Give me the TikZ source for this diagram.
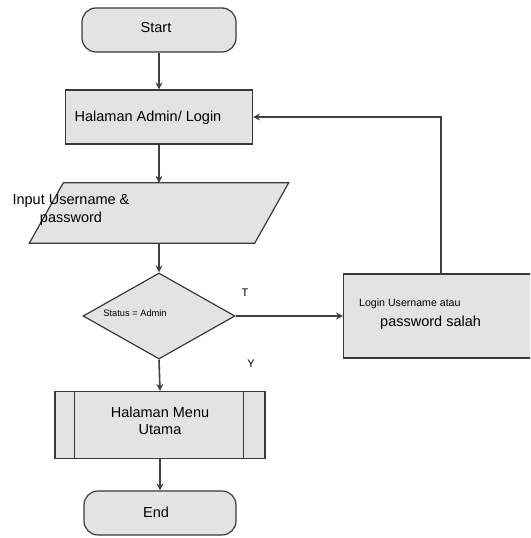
\documentclass[tikz,border=0pt]{standalone}
\usepackage{fontspec}
\setmainfont{Liberation Sans}
\usetikzlibrary{shapes.geometric,arrows.meta}

\tikzset{
  boxfill/.style={fill=gray!22, draw=gray!45!black, line width=1.2pt},
  terminal/.style={boxfill, rectangle, rounded corners=14pt, inner sep=0pt},
  procbox/.style={boxfill, rectangle, inner sep=0pt},
  decision/.style={boxfill, diamond, inner sep=0pt},
  ghost/.style={draw=none, rectangle, inner sep=0pt},
  flow/.style={draw=gray!50!black, line width=1.6pt,
               -{Stealth[length=7pt,width=7pt]}},
  bigtxt/.style={inner sep=0pt, font=\fontsize{14.5}{17.5}\selectfont, align=center},
  smalltxt/.style={inner sep=0pt, font=\fontsize{10.6}{12}\selectfont},
  tinytxt/.style={inner sep=0pt, font=\fontsize{9.3}{11}\selectfont},
  marktxt/.style={inner sep=0pt, font=\fontsize{11}{13}\selectfont}
}

\begin{document}
\begin{tikzpicture}[x=1pt,y=-1pt]
  \useasboundingbox (0,0) rectangle (530,538);
  \clip (0,0) rectangle (530,538);

  % main column
  \node[terminal, minimum width=154, minimum height=44] (start) at (159,30) {};
  \node[bigtxt] (starttxt) at (156,28) {Start};

  \node[procbox, minimum width=187, minimum height=54] (admin) at (159,117) {};
  \node[bigtxt] (admintxt) at (148,118) {Halaman Admin/ Login};

  % input parallelogram
  \node[ghost, minimum width=225, minimum height=60] (input) at (159,213) {};
  \draw[boxfill] ([xshift=17pt]input.north west) -- ([xshift=17pt]input.north east)
    -- ([xshift=-17pt]input.south east) -- ([xshift=-17pt]input.south west) -- cycle;
  \node[bigtxt] (inputtxt) at (71,210) {Input Username \&\\password};

  \node[decision, minimum width=152, minimum height=86] (dec) at (159,316) {};
  \node[tinytxt] (dectxt) at (135,313) {Status = Admin};

  % predefined process
  \node[procbox, minimum width=210, minimum height=67] (menu) at (160,425) {};
  \draw[draw=gray!45!black, line width=1.2pt]
    ([xshift=20pt]menu.north west) -- ([xshift=20pt]menu.south west)
    ([xshift=-22pt]menu.north east) -- ([xshift=-22pt]menu.south east);
  \node[bigtxt] (menutxt) at (160,421) {Halaman Menu\\Utama};

  \node[terminal, minimum width=152, minimum height=44] (end) at (160,513) {};
  \node[bigtxt] (endtxt) at (156,512) {End};

  % error message box, running past the right edge
  \node[procbox, minimum width=240, minimum height=84, anchor=west] (err) at (343,316) {};
  \coordinate (errtop) at (441,274);
  \node[smalltxt, anchor=west] (errtxtA) at (359,304) {Login Username atau};
  \node[bigtxt, anchor=west] (errtxtB) at (380,323) {password salah};

  % branch labels
  \node[marktxt] (lblT) at (245,293) {T};
  \node[marktxt] (lblY) at (251,364) {Y};

  % connectors
  \draw[flow] (start.south) -- (admin.north);
  \draw[flow] (admin.south) -- (input.north);
  \draw[flow] (input.south) -- (dec.north);
  \draw[flow] (dec.south) -- (menu.north);
  \draw[flow] (menu.south) -- (end.north);
  \draw[flow] (dec.east) -- (err.west);
  \draw[flow] (errtop) |- (admin.east);
\end{tikzpicture}
\end{document}
